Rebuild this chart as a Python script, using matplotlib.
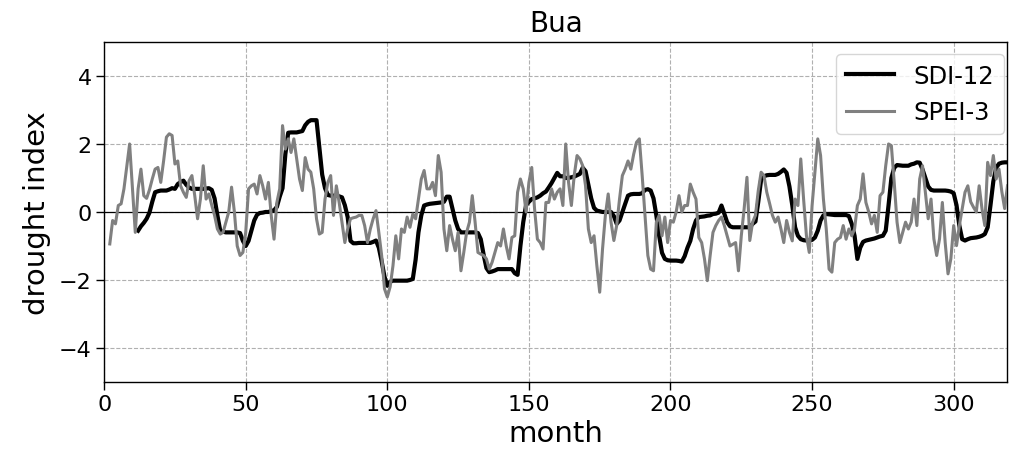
import numpy as np
import matplotlib
matplotlib.use("Agg")
import matplotlib.pyplot as plt

# Monthly drought indices for the Bua catchment
SDI12_START = 12
sdi12 = [
    -0.55, -0.42, -0.32, -0.2, -0.02, 0.3, 0.58, 0.61, 0.63, 0.63,
    0.63, 0.66, 0.7, 0.68, 0.82, 0.88, 0.92, 0.8, 0.72, 0.68,
    0.68, 0.68, 0.68, 0.68, 0.69, 0.7, 0.65, 0.4, -0.1, -0.55,
    -0.58, -0.6, -0.6, -0.6, -0.6, -0.6, -0.62, -0.85, -1.0, -0.85,
    -0.55, -0.25, -0.08, -0.03, -0.02, 0.0, 0.0, 0.03, 0.05, 0.15,
    0.45, 0.7, 1.7, 2.33, 2.34, 2.34, 2.34, 2.36, 2.38, 2.55,
    2.65, 2.7, 2.7, 2.7, 1.9, 1.1, 0.7, 0.5, 0.48, 0.48,
    0.48, 0.46, 0.43, 0.2, -0.15, -0.85, -0.92, -0.92, -0.91, -0.91,
    -0.91, -0.91, -0.91, -0.88, -0.84, -1.05, -1.45, -1.9, -2.17, -2.05,
    -2.02, -2.02, -2.02, -2.02, -2.02, -2.02, -2.0, -1.97, -1.4, -0.6,
    -0.1, 0.19, 0.22, 0.24, 0.25, 0.26, 0.27, 0.28, 0.3, 0.45,
    0.45, 0.1, -0.25, -0.5, -0.6, -0.6, -0.6, -0.6, -0.6, -0.6,
    -0.62, -0.8, -1.25, -1.65, -1.77, -1.75, -1.72, -1.68, -1.68, -1.68,
    -1.68, -1.68, -1.68, -1.8, -1.85, -1.0, -0.3, 0.2, 0.3, 0.38,
    0.4, 0.43, 0.48, 0.55, 0.6, 0.72, 0.85, 1.0, 1.15, 1.05,
    1.05, 1.0, 1.0, 1.02, 1.04, 1.08, 1.12, 1.3, 1.2, 0.8,
    0.4, 0.12, 0.04, 0.02, 0.0, 0.0, 0.0, 0.0, -0.12, -0.35,
    -0.25, 0.0, 0.24, 0.48, 0.52, 0.53, 0.53, 0.53, 0.55, 0.65,
    0.67, 0.63, 0.4, -0.1, -0.7, -1.2, -1.38, -1.42, -1.43, -1.43,
    -1.43,
    -1.44, -1.46, -1.3, -1.05, -0.85, -0.5, -0.25, -0.15, -0.14, -0.13,
    -0.11, -0.1, -0.06, -0.05, -0.02, 0.19, -0.05, -0.3, -0.42, -0.45,
    -0.45, -0.45, -0.45, -0.45, -0.45, -0.45, -0.35, -0.28, 0.3, 0.95,
    1.05, 1.08, 1.09, 1.09, 1.09, 1.12, 1.18, 1.25, 1.15, 0.75,
    0.2,
    -0.45, -0.7, -0.8, -0.83, -0.84, -0.84, -0.82, -0.75, -0.55, -0.25,
    -0.1, -0.06, -0.07, -0.08, -0.09, -0.09, -0.09, -0.09, -0.09, -0.12,
    -0.35, -0.7, -1.38, -1.05, -0.88, -0.84, -0.82, -0.8, -0.78, -0.75,
    -0.72, -0.7, -0.55, 0.2, 1.0, 1.3, 1.38, 1.37, 1.36, 1.36,
    1.36,
    1.4, 1.42, 1.46, 1.45, 1.25, 1.0, 0.75, 0.65, 0.63, 0.63,
    0.63, 0.63, 0.63, 0.62, 0.6, 0.55, 0.2, -0.4, -0.8, -0.84,
    -0.8, -0.77, -0.76, -0.75, -0.73, -0.7, -0.65, -0.45, 0.2, 0.9,
    1.3, 1.42, 1.45, 1.46, 1.46,
]

SPEI3_START = 2
spei3 = [
    -0.94, -0.25, -0.35, 0.19, 0.24, 0.68, 1.35, 2.0, 0.68, -0.6,
    0.68, 1.26, 0.48, 0.4, 0.65, 0.97, 1.26, 1.31, 0.87, 1.5,
    2.2, 2.3, 2.25, 1.41, 1.5, 0.77, 0.58, 0.43, 0.92, 1.07,
    0.48, -0.2, 0.38, 1.36, 0.38, 0.53, 0.2, -0.1, -0.5,
    -0.65, -0.6, -0.3, 0.0, 0.73, 0.0, -1.0, -1.28, -1.19, -0.6,
    0.68, 0.77, 0.82, 0.53, 1.07, 0.77, 0.38, 0.87, -0.1, -0.8,
    0.28, 0.68, 2.54, 1.85, 2.15, 1.75, 2.15, 1.56, 0.97, 0.63,
    1.6, 1.26, 1.17, 0.68, -0.2, -0.65, -0.6, 0.38, 0.87,
    1.07, -0.1, 0.77, 0.28, -0.3, -0.9, -0.5, -0.2, -0.17, -0.15,
    -0.1, -0.1, -0.4, -0.9, -0.5, -0.2, 0.04, -0.6, -1.28, -2.26,
    -2.5,
    -2.2, -1.58, -0.7, -1.38, -0.5, -0.6, -0.15, -0.45, -0.06, -0.2,
    0.38, 0.97, 1.22, 0.68, 0.68, 0.87, 0.48, 1.66, 1.17, -0.5,
    -1.14, -0.4,
    -0.8, -1.14, -0.6, -1.73, -1.19, -0.6, -0.3, 0.48, -0.3, -1.19,
    -1.24, -1.28, -1.38, -1.68, -1.48, -1.19, -0.9, -1.0, -0.5, -1.0,
    -1.38, -0.75, -0.7, 0.58, 0.97, 0.68, 0.0, 0.87, 1.31, 0.09,
    -0.8, -0.9, -1.09, 0.28, 0.28, 0.68, 0.38, 0.58, 0.68, 0.19,
    2.0, 0.87, 0.19, 1.07, 1.66, 1.56, 1.36, 0.77, -0.5, -0.9,
    -0.7, -1.58, -2.36, -1.09, -0.1, 0.53, -0.3, -0.84, -0.4, 0.38,
    1.07, 1.26, 1.5, 1.26, 1.7, 2.05, 2.15, 1.07, -0.1, -1.28,
    -1.68, -1.73, -0.3, -0.1, -0.7, -0.15, -0.9, -0.25, -0.3, 0.0,
    0.48, 0.0, 0.19, 0.19, 0.82, 0.58, 0.38, -0.75, -0.9, -1.38,
    -2.02, -1.28, -0.6, -0.4, -0.25, -0.15, -0.4, -0.7, -1.0, -0.95,
    -0.9, -1.73, -0.7, 0.09, 1.02, -0.84, -0.3, -0.1, 0.63, 1.17,
    1.07, 0.58, 0.25, -0.1, -0.3, -0.15, -0.5, -0.9, -0.25, -0.6,
    -0.85,
    0.38, 0.19, 1.56, 0.38, -0.7, -1.19, 0.19, 1.17, 2.15, 1.66,
    0.38, -0.5, -1.68, -1.77, -0.9, -0.8, -0.75, -0.4, -0.8, -0.5,
    -0.7, -0.5, 0.19, 0.38, 1.12, 0.28, 0.0, -0.35, -0.1, -0.6,
    0.48, 0.58, 1.36, 2.0, 1.95, 0.87, -0.3, -0.9, -0.6, -0.3,
    -0.5,
    -0.3, 0.38, -0.4, 0.97, 1.36, 0.58, -0.2, 0.38, -0.79, -1.28,
    -0.79, 0.28, -0.9, -1.82, -1.38, -0.4, -0.99, -0.4, 0.09, 0.58,
    0.77, 0.3, 0.14, 0.0, 0.77, 0.09, -0.4, 1.46, 1.07, 1.66,
    0.97, 1.26, 0.6, 0.1, 0.77,
]

station = "Bua"
x_ticks = [0, 50, 100, 150, 200, 250, 300]
y_ticks = [-4, -2, 0, 2, 4]

sdi_months = np.arange(SDI12_START, SDI12_START + len(sdi12))
spei_months = np.arange(SPEI3_START, SPEI3_START + len(spei3))

fig = plt.figure(figsize=(10.09, 4.64), dpi=100)
ax = fig.add_axes([0.1032, 0.1746, 0.8953, 0.7328])

ax.plot(sdi_months, sdi12, color="black", lw=3.0, label="SDI-12", zorder=3)
ax.plot(spei_months, spei3, color="gray", lw=2.2, label="SPEI-3", zorder=4)
ax.axhline(0, color="black", lw=0.9, zorder=2)

ax.set_xlim(0, 319)
ax.set_ylim(-5, 5)
ax.set_xticks(x_ticks)
ax.set_yticks(y_ticks)
ax.grid(True, linestyle="--", color="#b0b0b0", lw=0.8)
ax.tick_params(labelsize=16, length=5.5, width=1.0)
for sp in ax.spines.values():
    sp.set_linewidth(1.0)

ax.set_xlabel("month", fontsize=21, labelpad=3)
ax.set_ylabel("drought index", fontsize=21, labelpad=6)
ax.set_title(station, fontsize=20, pad=8)
ax.legend(loc="upper right", bbox_to_anchor=(0.9961, 0.9639),
          borderaxespad=0.0, fontsize=17.5, handlelength=2.0,
          framealpha=0.8)

fig.savefig("out.png", dpi=100)
